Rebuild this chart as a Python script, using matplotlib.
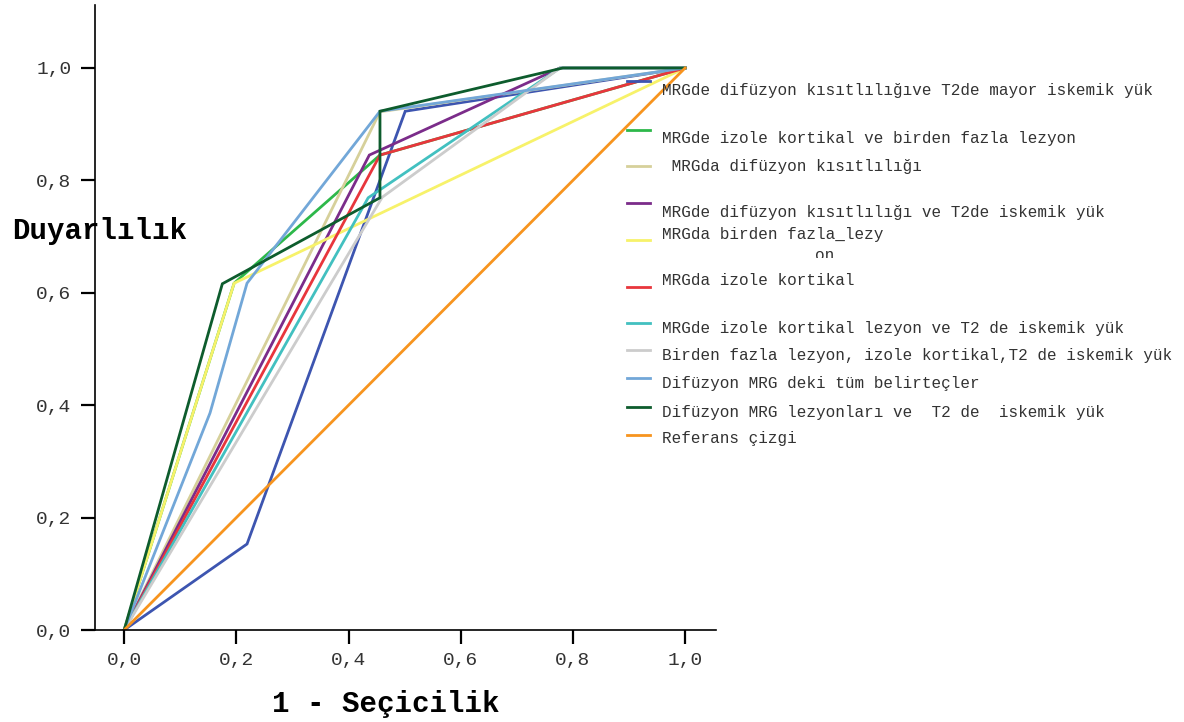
import matplotlib
matplotlib.use("Agg")
import matplotlib.pyplot as plt
from matplotlib.lines import Line2D
from matplotlib.transforms import Bbox

plt.rcParams['font.family'] = ['Liberation Mono', 'DejaVu Sans Mono']

# ROC curve points (1 - specificity, sensitivity)
labels = [
    "MRGde difüzyon kısıtlılığıve T2de mayor iskemik yük",
    "MRGde izole kortikal ve birden fazla lezyon",
    " MRGda difüzyon kısıtlılığı",
    "MRGde difüzyon kısıtlılığı ve T2de iskemik yük",
    "MRGda birden fazla_lezy",
    "MRGda izole kortikal",
    "MRGde izole kortikal lezyon ve T2 de iskemik yük",
    "Birden fazla lezyon, izole kortikal,T2 de iskemik yük",
    "Difüzyon MRG deki tüm belirteçler",
    "Difüzyon MRG lezyonları ve  T2 de  iskemik yük",
    "Referans çizgi",
]
colors = ["#3D55B0", "#2DB84A", "#D6D09A", "#7B2C8A", "#F7F26A", "#E8363C",
          "#42C0C0", "#CCCCCC", "#72A7D8", "#0D5C2D", "#F7941E"]

xs = [
    [0, 0.219, 0.501, 1.0],
    [0, 0.196, 0.456, 1.0],
    [0, 0.456, 1.0],
    [0, 0.437, 0.777, 1.0],
    [0, 0.196, 1.0],
    [0, 0.456, 1.0],
    [0, 0.435, 0.777, 1.0],
    [0, 0.460, 0.777, 1.0],
    [0, 0.153, 0.219, 0.456, 1.0],
    [0, 0.175, 0.456, 0.456, 0.782, 1.0],
    [0, 1.0],
]
ys = [
    [0, 0.153, 0.923, 1.0],
    [0, 0.617, 0.845, 1.0],
    [0, 0.922, 1.0],
    [0, 0.845, 1.0, 1.0],
    [0, 0.617, 1.0],
    [0, 0.845, 1.0],
    [0, 0.769, 1.0, 1.0],
    [0, 0.770, 1.0, 1.0],
    [0, 0.386, 0.617, 0.923, 1.0],
    [0, 0.616, 0.769, 0.923, 1.0, 1.0],
    [0, 1.0],
]

ticks = [0, 0.2, 0.4, 0.6, 0.8, 1.0]
tick_labels = ["0,0", "0,2", "0,4", "0,6", "0,8", "1,0"]

# legend y positions (pixels from top): handle row, text row
handle_y = [81, 130, 166, 203, 240, 287, 323, 350, 378, 407, 435]
text_y = [90, 138, 166, 212, 235, 281, 329, 355, 383, 412, 438]

W, H = 1184, 722
fig = plt.figure(figsize=(W / 100, H / 100), dpi=100)
ax = fig.add_axes([95 / W, (H - 630) / H, (716 - 95) / W, (630 - 5) / H])

for x, y, c in zip(xs, ys, colors):
    ax.plot(x, y, color=c, lw=2.0, solid_joinstyle='miter')

ax.set_xlim(-0.052, 1.055)
ax.set_ylim(0, 1.112)
ax.spines['top'].set_visible(False)
ax.spines['right'].set_visible(False)
ax.spines['left'].set_linewidth(1.2)
ax.spines['bottom'].set_linewidth(1.2)
ax.set_xticks(ticks)
ax.set_xticklabels(tick_labels)
ax.set_yticks(ticks)
ax.set_yticklabels(tick_labels)
ax.tick_params(axis='both', direction='out', length=10, width=1.6,
               labelsize=14, colors='black', labelcolor='#333333')
ax.tick_params(axis='x', pad=6)
ax.tick_params(axis='y', pad=7)

fig.text(386 / W, 1 - 704 / H, "1 - Seçicilik", ha='center', va='center',
         fontsize=21, fontweight='bold')
fig.text(12 / W, 1 - 231 / H, "Duyarlılık", ha='left', va='center',
         fontsize=21, fontweight='bold')

# manual legend
for lab, c, hy, ty in zip(labels, colors, handle_y, text_y):
    fig.add_artist(Line2D([627 / W, 650 / W], [1 - hy / H, 1 - hy / H],
                          color=c, lw=2, transform=fig.transFigure))
    fig.text(662 / W, 1 - ty / H, lab, ha='left', va='center', fontsize=11.5,
             color='#333333')

clip = fig.text(815 / W, 1 - 256 / H, "on", ha='left', va='center',
                fontsize=11.5, color='#333333')
clip.set_clip_box(Bbox([[0, H - 258], [W, H - 247]]))
clip.set_clip_on(True)

fig.savefig("out.png", dpi=100)
